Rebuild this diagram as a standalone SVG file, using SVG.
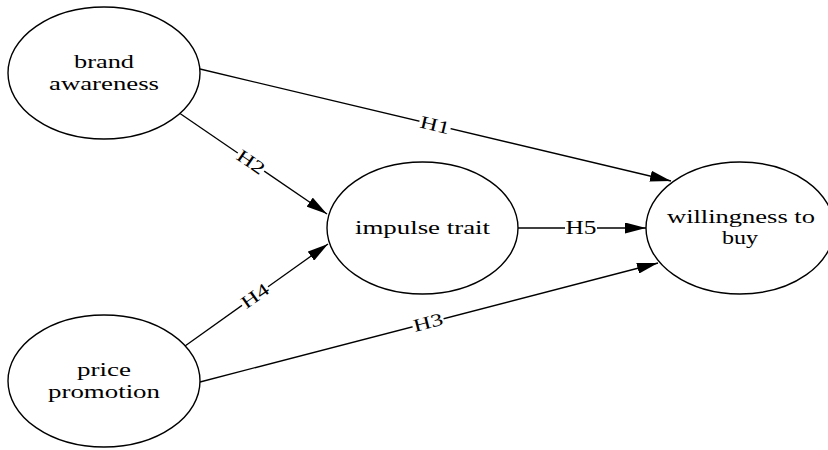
<svg xmlns="http://www.w3.org/2000/svg" width="828" height="450" viewBox="0 0 828 450">
  <style>
    .node ellipse { fill: #ffffff; stroke: #000000; stroke-width: 1.4; }
    .node text { font-family: "Liberation Serif", "Times New Roman", serif; font-size: 18px; fill: #000000; text-anchor: middle; }
    .edge line { stroke: #000000; stroke-width: 1.3; marker-end: url(#arrow); }
    .edge rect { fill: #ffffff; stroke: none; }
    .edge text { font-family: "Liberation Serif", "Times New Roman", serif; font-size: 18px; fill: #000000; text-anchor: middle; }
  </style>
  <defs>
    <marker id="arrow" markerUnits="userSpaceOnUse" markerWidth="22" markerHeight="11" refX="21" refY="5.5" orient="auto">
      <path d="M0,0 L21,5.5 L0,11 Z" fill="#000000"/>
    </marker>
  </defs>
  <rect width="828" height="450" fill="#ffffff"/>

  <g id="connectors">
    <g class="edge" id="e-h1">
      <line x1="200" y1="69" x2="671" y2="181"/>
      <g transform="translate(435,125) rotate(13.4)">
        <rect x="-16" y="-8" width="32" height="15"/>
        <text x="0" y="6" textLength="30" lengthAdjust="spacingAndGlyphs">H1</text>
      </g>
    </g>
    <g class="edge" id="e-h2">
      <line x1="180" y1="113.5" x2="327" y2="214"/>
      <g transform="translate(251,162) rotate(34.3)">
        <rect x="-16" y="-8" width="32" height="15"/>
        <text x="0" y="6" textLength="30" lengthAdjust="spacingAndGlyphs">H2</text>
      </g>
    </g>
    <g class="edge" id="e-h4">
      <line x1="185" y1="346" x2="328" y2="244"/>
      <g transform="translate(255,296) rotate(-35.5)">
        <rect x="-16" y="-8" width="32" height="15"/>
        <text x="0" y="6" textLength="30" lengthAdjust="spacingAndGlyphs">H4</text>
      </g>
    </g>
    <g class="edge" id="e-h3">
      <line x1="200" y1="382" x2="658" y2="263"/>
      <g transform="translate(428,322.5) rotate(-14.6)">
        <rect x="-16" y="-8" width="32" height="15"/>
        <text x="0" y="6" textLength="30" lengthAdjust="spacingAndGlyphs">H3</text>
      </g>
    </g>
    <g class="edge" id="e-h5">
      <line x1="518" y1="228" x2="646" y2="228"/>
      <g transform="translate(581,228)">
        <rect x="-16" y="-8" width="32" height="15"/>
        <text x="0" y="6" textLength="31" lengthAdjust="spacingAndGlyphs">H5</text>
      </g>
    </g>
  </g>

  <g class="node" id="brand-awareness">
    <ellipse cx="104" cy="73" rx="96" ry="66"/>
    <text x="104" y="68" textLength="60" lengthAdjust="spacingAndGlyphs">brand</text>
    <text x="104" y="90" textLength="110" lengthAdjust="spacingAndGlyphs">awareness</text>
  </g>

  <g class="node" id="price-promotion">
    <ellipse cx="104" cy="381" rx="96" ry="66"/>
    <text x="104" y="376" textLength="54" lengthAdjust="spacingAndGlyphs">price</text>
    <text x="104" y="398" textLength="112" lengthAdjust="spacingAndGlyphs">promotion</text>
  </g>

  <g class="node" id="impulse-trait">
    <ellipse cx="422.5" cy="228" rx="95.5" ry="66"/>
    <text x="422.5" y="233.5" textLength="135" lengthAdjust="spacingAndGlyphs">impulse trait</text>
  </g>

  <g class="node" id="willingness-to-buy">
    <ellipse cx="740" cy="228" rx="94" ry="66"/>
    <text x="741" y="223" textLength="148" lengthAdjust="spacingAndGlyphs">willingness to</text>
    <text x="740" y="244" textLength="36" lengthAdjust="spacingAndGlyphs">buy</text>
  </g>
</svg>
